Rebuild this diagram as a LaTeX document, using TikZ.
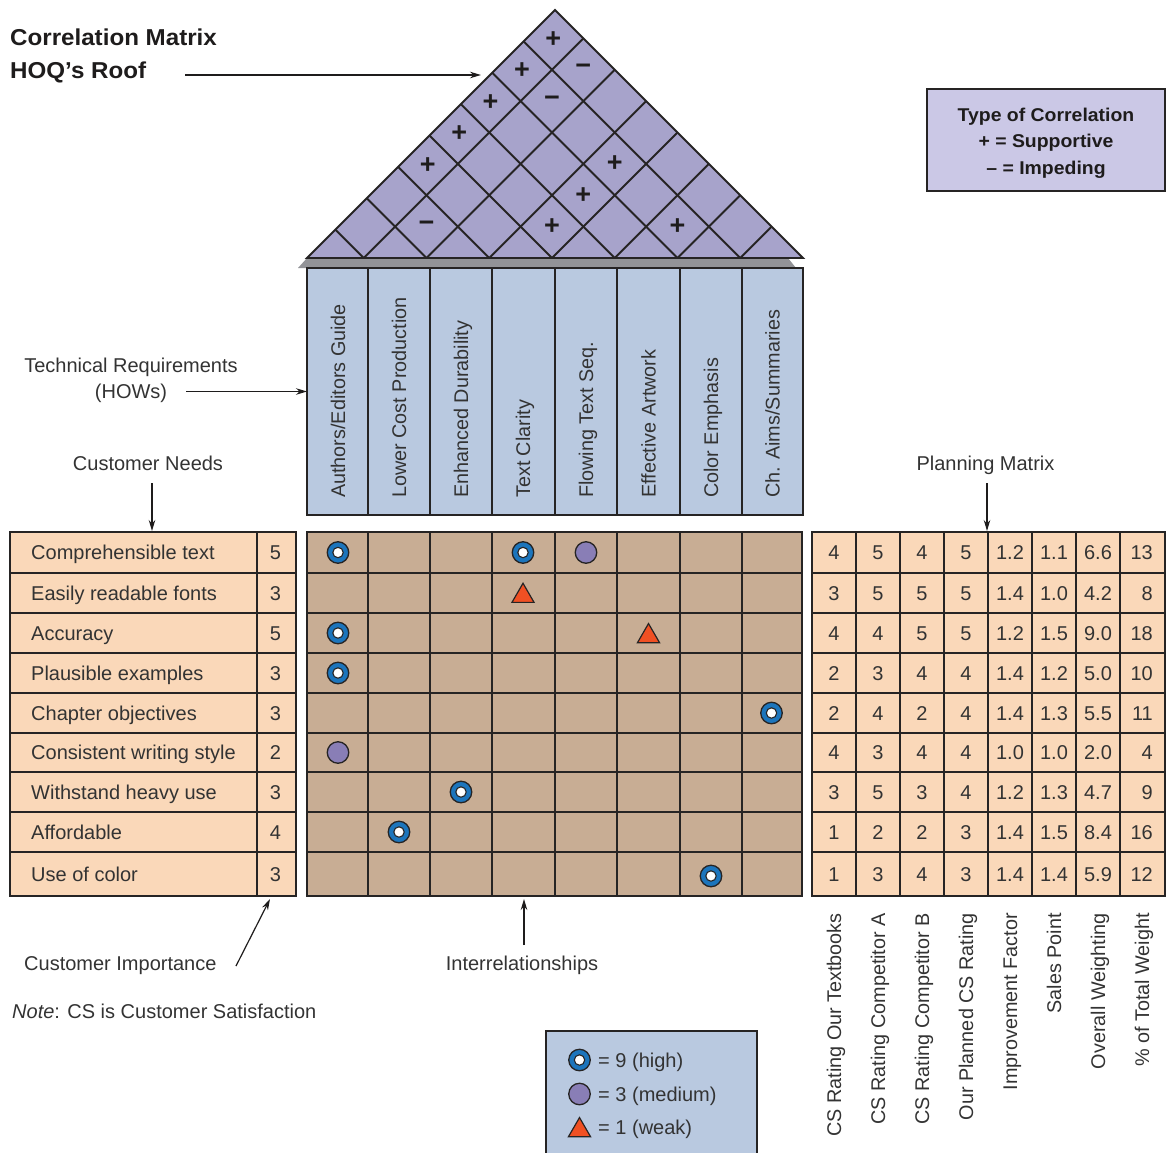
\documentclass[tikz,border=0pt]{standalone}
\usepackage{fontspec}
\setmainfont{Liberation Sans}
\newfontfamily\widebold[FakeStretch=1.05]{Liberation Sans Bold}
\usetikzlibrary{arrows.meta,shapes.geometric}

\definecolor{ink}{RGB}{51,51,51}
\definecolor{darkink}{RGB}{30,28,28}
\definecolor{rule}{RGB}{38,36,36}
\definecolor{roofpurple}{RGB}{167,163,203}
\definecolor{keylavender}{RGB}{203,200,230}
\definecolor{hdrblue}{RGB}{185,201,224}
\definecolor{peach}{RGB}{250,216,185}
\definecolor{tan}{RGB}{200,173,148}
\definecolor{shadowgray}{RGB}{146,147,151}
\definecolor{ringblue}{RGB}{28,117,188}
\definecolor{medpurple}{RGB}{137,126,182}
\definecolor{weakred}{RGB}{240,80,35}

\tikzset{
  lbl/.style={font=\fontsize{20}{24}\selectfont, text=ink, inner sep=0pt},
  vlbl/.style={font=\fontsize{19.8}{24}\selectfont, text=ink, inner sep=0pt, rotate=90},
  heading/.style={font=\widebold\fontsize{23}{27}\selectfont, text=darkink, inner sep=0pt},
  keytext/.style={font=\widebold\fontsize{18.5}{22}\selectfont, text=darkink, inner sep=0pt},
  sign/.style={font=\bfseries\fontsize{27}{27}\selectfont, text=darkink, inner sep=0pt},
  gridrule/.style={draw=rule, line width=1.5pt},
  roofrule/.style={draw=rule, line width=1.9pt},
  pointer/.style={draw=darkink, line width=1.2pt, -{Stealth[length=11pt,width=6.5pt]}},
  high/.style={circle, draw=rule, line width=1.3pt, fill=ringblue, minimum size=21.5pt, inner sep=0pt,
    path picture={\draw[rule, line width=1.1pt, fill=white] (path picture bounding box.center) circle (5.2pt);}},
  medium/.style={circle, draw=rule, line width=1.3pt, fill=medpurple, minimum size=21.5pt, inner sep=0pt},
  weak/.style={regular polygon, regular polygon sides=3, draw=rule, line width=1.2pt, fill=weakred,
    minimum size=25.5pt, inner sep=0pt},
}

\begin{document}
\begin{tikzpicture}[x=1pt,y=-1pt]
\clip (0,0) rectangle (1167,1153);

% ---------- roof: correlation matrix ----------
\fill[shadowgray] (298,268) -- (307,258) -- (788,258) -- (796,268) -- cycle;
\fill[roofpurple] (307,258) -- (555,10) -- (803,258) -- cycle;
\foreach \k in {1,...,7}{
  \pgfmathsetmacro\v{803-(8-\k)*62.75}
  \draw[roofrule] (\v,258) -- ({(\v+307)/2},{258-(\v-307)/2});
  \draw[roofrule] (\v,258) -- ({(\v+803)/2},{258-(803-\v)/2});
}
\draw[roofrule, line join=miter] (307,258) -- (555,10) -- (803,258) -- cycle;

\foreach \i/\j/\s in {1/8/+, 1/7/+, 2/8/−, 1/6/+, 2/7/−, 1/5/+, 1/4/+, 4/7/+, 4/6/+, 2/3/−, 4/5/+, 6/7/+}{
  \pgfmathsetmacro\ci{\i==1 ? 335 : 803-(8.5-\i)*62.75}
  \pgfmathsetmacro\cj{803-(8.5-\j)*62.75}
  \node[sign] (roof-\i-\j) at ({(\ci+\cj)/2},{258-(\cj-\ci)/2}) {\s};
}

% ---------- correlation key ----------
\draw[draw=rule, line width=2.2pt, fill=keylavender] (927,89) rectangle (1165,191);
\node[keytext, anchor=base] (key1) at (1046,122) {Type of Correlation};
\node[keytext, anchor=base] (key2) at (1046,148) {+ = Supportive};
\node[keytext, anchor=base] (key3) at (1046,174) {– = Impeding};

% ---------- title ----------
\node[heading, anchor=base west] (title1) at (10,46) {Correlation Matrix};
\node[heading, anchor=base west] (title2) at (10,79) {HOQ’s Roof};
\coordinate (roofptr-from) at (185,75);
\coordinate (roofptr-to) at (481,75);
\draw[pointer] (roofptr-from) -- (roofptr-to);

% ---------- technical requirements (HOWs) ----------
\fill[hdrblue] (307,268) rectangle (803,515);
\foreach \a in {368,430,492,555,617,680,742} \draw[gridrule] (\a,268) -- (\a,515);
\draw[gridrule] (307,268) rectangle (803,515);
\node[vlbl, anchor=base west] (how1) at (345,498) {Authors/Editors Guide};
\node[vlbl, anchor=base west] (how2) at (406,498) {Lower Cost Production};
\node[vlbl, anchor=base west] (how3) at (468,498) {Enhanced Durability};
\node[vlbl, anchor=base west] (how4) at (530,498) {Text Clarity};
\node[vlbl, anchor=base west] (how5) at (593,498) {Flowing Text Seq.};
\node[vlbl, anchor=base west] (how6) at (655.5,498) {Effective Artwork};
\node[vlbl, anchor=base west] (how7) at (718,498) {Color Emphasis};
\node[vlbl, anchor=base west] (how8) at (779.5,498) {Ch. Aims/Summaries};

\node[lbl, anchor=base] (techreq1) at (131,372) {Technical Requirements};
\node[lbl, anchor=base] (techreq2) at (131,398) {(HOWs)};
\coordinate (howptr-from) at (186,391.5);
\coordinate (howptr-to) at (307,391.5);
\draw[pointer] (howptr-from) -- (howptr-to);

% ---------- customer needs ----------
\node[lbl, anchor=base] (needs) at (148,470) {Customer Needs};
\coordinate (needsptr-from) at (152,483);
\coordinate (needsptr-to) at (152,531);
\draw[pointer] (needsptr-from) -- (needsptr-to);

\fill[peach] (10,532) rectangle (296,896);
\draw[gridrule] (257,532) -- (257,896);
\foreach \r in {573,613,653,693,733,772,812,852} \draw[gridrule] (10,\r) -- (296,\r);
\draw[gridrule] (10,532) rectangle (296,896);

\foreach \y/\t/\w [count=\n] in {552.5/Comprehensible text/5, 593/Easily readable fonts/3,
    633/Accuracy/5, 673/Plausible examples/3, 713/Chapter objectives/3,
    752.5/Consistent writing style/2, 792/Withstand heavy use/3, 832/Affordable/4,
    874/Use of color/3}{
  \node[lbl, anchor=base west] (need\n) at (31,\y+7) {\t};
  \node[lbl, anchor=base] (imp\n) at (275.5,\y+7) {\w};
}

\node[lbl, anchor=base west] (importance) at (24,970) {Customer Importance};
\coordinate (impptr-from) at (236,966);
\coordinate (impptr-to) at (270,899);
\draw[pointer] (impptr-from) -- (impptr-to);
\node[lbl, anchor=base west] (note) at (12,1018) {\textit{Note}: CS is Customer Satisfaction};

% ---------- interrelationship matrix ----------
\fill[tan] (307,532) rectangle (802,896);
\foreach \a in {368,430,492,555,617,680,742} \draw[gridrule] (\a,532) -- (\a,896);
\foreach \r in {573,613,653,693,733,772,812,852} \draw[gridrule] (307,\r) -- (802,\r);
\draw[gridrule] (307,532) rectangle (802,896);

\node[high]   (r1c1) at (338,552.5) {};
\node[high]   (r1c4) at (523,552.5) {};
\node[medium] (r1c5) at (586,552.5) {};
\node[weak]   (r2c4) at (523,596) {};
\node[high]   (r3c1) at (338,633) {};
\node[weak]   (r3c6) at (648.5,636.3) {};
\node[high]   (r4c1) at (338,673) {};
\node[high]   (r5c8) at (771.5,713) {};
\node[medium] (r6c1) at (338,752.5) {};
\node[high]   (r7c3) at (461,792) {};
\node[high]   (r8c2) at (399,832) {};
\node[high]   (r9c7) at (711,876) {};

\node[lbl, anchor=base] (interrel) at (522,970) {Interrelationships};
\coordinate (relptr-from) at (524,945);
\coordinate (relptr-to) at (524,899);
\draw[pointer] (relptr-from) -- (relptr-to);

% ---------- planning matrix ----------
\node[lbl, anchor=base] (planning) at (985.5,470) {Planning Matrix};
\coordinate (planptr-from) at (987,483);
\coordinate (planptr-to) at (987,531);
\draw[pointer] (planptr-from) -- (planptr-to);

\fill[peach] (812,532) rectangle (1165,896);
\foreach \a in {856,900,944,988,1032,1076,1120} \draw[gridrule] (\a,532) -- (\a,896);
\foreach \r in {573,613,653,693,733,772,812,852} \draw[gridrule] (812,\r) -- (1165,\r);
\draw[gridrule] (812,532) rectangle (1165,896);

\foreach \y/\vals [count=\n] in {
    552.5/{4,5,4,5,1.2,1.1,6.6,13},
    593/{3,5,5,5,1.4,1.0,4.2,8},
    633/{4,4,5,5,1.2,1.5,9.0,18},
    673/{2,3,4,4,1.4,1.2,5.0,10},
    713/{2,4,2,4,1.4,1.3,5.5,11},
    752.5/{4,3,4,4,1.0,1.0,2.0,4},
    792/{3,5,3,4,1.2,1.3,4.7,9},
    832/{1,2,2,3,1.4,1.5,8.4,16},
    874/{1,3,4,3,1.4,1.4,5.9,12}}{
  \foreach \v [count=\c] in \vals {
    \ifnum\c<8
      \node[lbl, anchor=base] (plan\n-\c) at (790+44*\c,\y+7) {\v};
    \else
      \node[lbl, anchor=base east] (plan\n-\c) at (1153,\y+7) {\v};
    \fi
  }
}

\node[vlbl, anchor=base east] (whatcol1) at (841,913) {CS Rating Our Textbooks};
\node[vlbl, anchor=base east] (whatcol2) at (885,913) {CS Rating Competitor A};
\node[vlbl, anchor=base east] (whatcol3) at (929,913) {CS Rating Competitor B};
\node[vlbl, anchor=base east] (whatcol4) at (973,913) {Our Planned CS Rating};
\node[vlbl, anchor=base east] (whatcol5) at (1017,913) {Improvement Factor};
\node[vlbl, anchor=base east] (whatcol6) at (1061,913) {Sales Point};
\node[vlbl, anchor=base east] (whatcol7) at (1105,913) {Overall Weighting};
\node[vlbl, anchor=base east] (whatcol8) at (1149,913) {\% of Total Weight};

% ---------- relationship key ----------
\draw[draw=rule, line width=1.5pt, fill=hdrblue] (546,1031) rectangle (757,1170);
\node[high]   (keyhigh) at (579.5,1060) {};
\node[medium] (keymed)  at (579.5,1094) {};
\node[weak]   (keyweak) at (579.5,1130.3) {};
\node[lbl, anchor=base west] (keyhightext) at (598,1067) {= 9 (high)};
\node[lbl, anchor=base west] (keymedtext)  at (598,1101) {= 3 (medium)};
\node[lbl, anchor=base west] (keyweaktext) at (598,1134) {= 1 (weak)};

\end{tikzpicture}
\end{document}
